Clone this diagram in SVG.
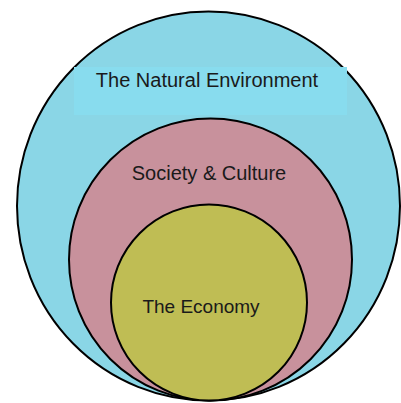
<svg xmlns="http://www.w3.org/2000/svg" width="401" height="403" viewBox="0 0 401 403">
<style>
.ring{stroke:#000;stroke-width:2}
.lbl{font-family:"Liberation Sans",Arial,sans-serif;font-size:20px;fill:#1a1a1a;text-anchor:middle}
</style>
<rect width="401" height="403" fill="#fff"/>
<g id="environment">
<ellipse class="ring" cx="208.5" cy="206" rx="191.5" ry="194.5" fill="#8ad6e6"/>
<rect x="74" y="67" width="273" height="48" fill="#88dcee"/>
<text class="lbl" x="207" y="87">The Natural Environment</text>
</g>
<g id="society">
<ellipse class="ring" cx="210.5" cy="259.5" rx="141.5" ry="141" fill="#c8919c"/>
<text class="lbl" x="209" y="180">Society &amp; Culture</text>
</g>
<g id="economy">
<ellipse class="ring" cx="209" cy="302.5" rx="98" ry="98" fill="#bfbd54"/>
<text class="lbl" x="201" y="313" style="font-size:19px">The Economy</text>
</g>
<g id="connectors"/>
</svg>
